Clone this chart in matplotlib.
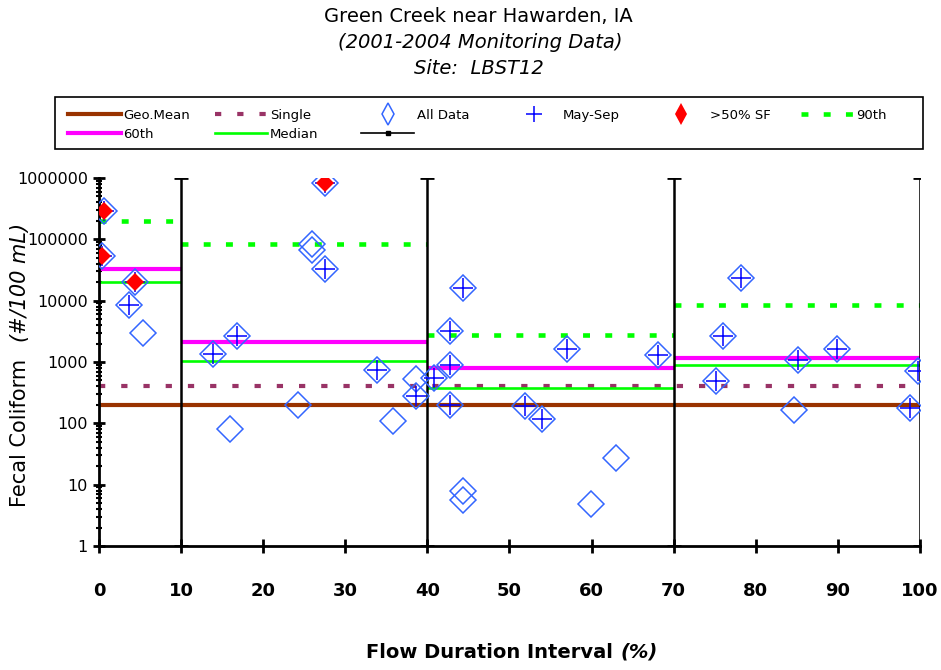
import matplotlib
matplotlib.use("Agg")
import matplotlib.pyplot as plt
from matplotlib.lines import Line2D
from matplotlib.patches import Rectangle
import numpy as np

plt.rcParams['font.family'] = ['DejaVu Sans']
plt.rcParams['lines.scale_dashes'] = False

# ---- data ----
# all samples: flow duration interval (%) and fecal coliform (#/100 mL)
all_x = [0.4, 0.65, 3.6, 4.35, 5.4, 13.9, 15.9, 16.8, 24.2, 25.9, 25.9, 27.5, 27.5,
         33.9, 35.8, 38.65, 38.65, 40.8, 42.8, 42.8, 42.8, 44.3, 44.3, 44.3, 51.9,
         53.9, 57.0, 59.9, 63.0, 68.1, 75.2, 76.0, 78.2, 84.6, 85.2, 89.9, 98.8, 99.8]
all_y = [52500, 292000, 8500, 19800, 2930, 1370, 80, 2620, 200, 85000, 68000, 32600, 838000,
         730, 111, 533, 282, 555, 3240, 904, 200, 16100, 8.0, 5.7, 190,
         117, 1610, 4.9, 27.6, 1280, 494, 2620, 23500, 162, 1060, 1625, 179, 720]

# May-Sep samples
may_x = [0.4, 0.65, 3.6, 4.35, 13.9, 16.8, 27.5, 27.5, 33.9, 38.65, 40.8, 42.8, 42.8, 42.8,
         44.3, 51.9, 53.9, 57.0, 68.1, 75.2, 76.0, 78.2, 85.2, 89.9, 98.8, 99.8]
may_y = [52500, 292000, 8500, 19800, 1370, 2620, 32600, 838000, 730, 282, 555, 3240, 904, 200,
         16100, 190, 117, 1610, 1280, 494, 2620, 23500, 1060, 1625, 179, 720]

# samples taken when >50% of the stream flow was surface flow
sf_x = [0.4, 0.65, 4.35, 27.5]
sf_y = [52500, 292000, 19800, 838000]

# flow zones and their statistics
zone_edges = [0, 10, 40, 70, 100]
p90 = [196000, 82600, 2790, 8630]
p60 = [32600, 2110, 808, 1175]
median = [20000, 1050, 375, 903]

geo_mean_std = 200
single_std = 400

fig = plt.figure(figsize=(9.41, 6.70), dpi=100)
ax = fig.add_axes([99 / 941, 1 - 546 / 670, 821 / 941, 368 / 670])

# standards
ax.hlines(geo_mean_std, 0, 100, color='#993300', lw=3, zorder=2)
ax.hlines(single_std, 0, 100, color='#993366', lw=3, linestyles=[(0, (4.5, 11.5))], zorder=2)

# zone statistics
ax.hlines(p90, zone_edges[:-1], zone_edges[1:], color='#00FF00', lw=3.3,
          linestyles=[(0, (5, 11))], zorder=2)
ax.hlines(p60, zone_edges[:-1], zone_edges[1:], color='#FF00FF', lw=3, zorder=2)
ax.hlines(median, zone_edges[:-1], zone_edges[1:], color='#00FF00', lw=1.9, zorder=2)

# zone boundaries
ax.errorbar(zone_edges[1:4], [1e6] * 3, yerr=[[1e6 - 1] * 3, [0] * 3], fmt='none',
            ecolor='black', elinewidth=1.8, capsize=5, capthick=2, zorder=3)
ax.errorbar(zone_edges[4:], [1e6], yerr=[[1e6 - 1], [0]], fmt='none',
            ecolor='black', elinewidth=1.1, capsize=5, capthick=2, zorder=3)

# samples
ax.plot(all_x, all_y, ls='none', marker='D', ms=13.5, mfc='none', mec='#3366FF', mew=1.1, zorder=4)
ax.plot(may_x, may_y, ls='none', marker='+', ms=14, mec='#0000FF', mew=1.1, zorder=5)
ax.plot(sf_x, sf_y, ls='none', marker='D', ms=9, mfc='#FF0000', mec='#FF0000', mew=0, zorder=6)

ax.set_yscale('log')
ax.set_ylim(1, 1e6)
ax.set_xlim(0, 100)
ax.set_xticks(np.arange(0, 101, 10))
ax.set_yticks([1, 10, 100, 1000, 10000, 100000, 1000000])
ax.set_yticklabels(['1', '10', '100', '1000', '10000', '100000', '1000000'])
ax.yaxis.set_minor_locator(matplotlib.ticker.LogLocator(base=10, subs=np.arange(2, 10)))
ax.yaxis.set_minor_formatter(matplotlib.ticker.NullFormatter())

for side in ['top', 'right']:
    ax.spines[side].set_visible(False)
ax.spines['left'].set_linewidth(2)
ax.spines['bottom'].set_linewidth(2)
ax.tick_params(axis='x', which='major', direction='inout', length=10, width=2, pad=21,
               labelsize=13)
ax.tick_params(axis='y', which='major', direction='inout', length=8, width=2, pad=4,
               labelsize=11.5)
ax.tick_params(axis='y', which='minor', direction='inout', length=5, width=1.5)
for lab in ax.get_xticklabels():
    lab.set_fontweight('bold')

# titles
fig.text(478 / 941, 1 - 16 / 670, 'Green Creek near Hawarden, IA', ha='center', va='center',
         fontsize=14)
fig.text(480 / 941, 1 - 43 / 670, '(2001-2004 Monitoring Data)', ha='center', va='center',
         fontsize=14, style='italic')
fig.text(479 / 941, 1 - 69 / 670, 'Site:  LBST12', ha='center', va='center',
         fontsize=14, style='italic')

# axis labels
fig.text(620 / 941, 1 - 652 / 670, 'Flow Duration Interval ', ha='right', va='center',
         fontsize=14, fontweight='bold')
fig.text(620 / 941, 1 - 652 / 670, '(%)', ha='left', va='center',
         fontsize=14, fontweight='bold', style='italic')
fig.text(20 / 941, 1 - 507 / 670, 'Fecal Coliform', ha='center', va='bottom',
         fontsize=15, rotation=90)
fig.text(20 / 941, 1 - 223 / 670, '(#/100 mL)', ha='center', va='top',
         fontsize=15, rotation=90, style='italic')

# legend: six columns at an even pitch inside one frame
legend_cols = [
    ([Line2D([], [], color='#993300', lw=3), Line2D([], [], color='#FF00FF', lw=3)],
     ['Geo.Mean', '60th']),
    ([Line2D([], [], color='#993366', lw=3, ls=(0, (4.5, 11.5))),
      Line2D([], [], color='#00FF00', lw=1.9)],
     ['Single', 'Median']),
    ([Line2D([], [], ls='none', marker='d', ms=11, mfc='none', mec='#3366FF', mew=1.1),
      Line2D([], [], color='black', lw=1.2, marker='s', ms=3)],
     ['All Data', '']),
    ([Line2D([], [], ls='none', marker='+', ms=11, mec='#0000FF', mew=1.1)], ['May-Sep']),
    ([Line2D([], [], ls='none', marker='d', ms=11, mfc='#FF0000', mec='#FF0000', mew=0)],
     ['>50% SF']),
    ([Line2D([], [], color='#00FF00', lw=3.3, ls=(0, (5, 11)))], ['90th']),
]
for i, (hs, ls_) in enumerate(legend_cols):
    fig.legend(hs, ls_, loc='upper left', frameon=False, fontsize=9.5,
               bbox_to_anchor=((68 + 146.6 * i) / 941, 1 - 109 / 670),
               borderaxespad=0, borderpad=0, handlelength=4.0, handletextpad=0.2,
               labelspacing=0.45)
fig.add_artist(Rectangle((55 / 941, 1 - 149 / 670), 868 / 941, 52 / 670,
                         transform=fig.transFigure, fill=False, edgecolor='black', lw=1.2))

fig.savefig('out.png', dpi=100)
